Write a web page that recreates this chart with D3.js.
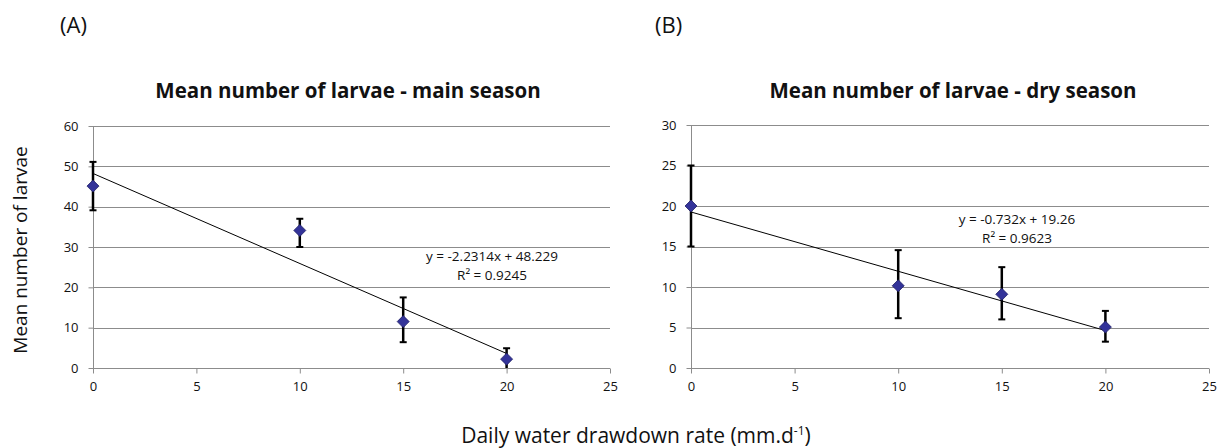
<!DOCTYPE html>
<html>
<head>
<meta charset="utf-8">
<script src="https://cdn.jsdelivr.net/npm/d3@7"></script>
<style>
  body { margin: 0; background: #fff; }
  svg { font-family: "Open Sans", sans-serif; }
</style>
</head>
<body>
<svg id="chart" width="1219" height="448"></svg>
<script>
// data
var xTicks = [0, 5, 10, 15, 20, 25];
var drawdown = [0, 10, 15, 20];

var mainMean = [45.1, 34.1, 11.5, 2.2];
var mainLow = [39.1, 30.0, 6.4, 0];
var mainHigh = [51.1, 37.0, 17.5, 4.9];
var mainTicks = [0, 10, 20, 30, 40, 50, 60];
var mainFit = [-2.2314, 48.229];

var dryMean = [20.0, 10.15, 9.1, 5.05];
var dryLow = [15.0, 6.15, 6.0, 3.25];
var dryHigh = [25.0, 14.55, 12.45, 7.05];
var dryTicks = [0, 5, 10, 15, 20, 25, 30];
var dryFit = [-0.732, 19.26];

var svg = d3.select('#chart');

var panels = [
  {
    tag: '(A)', tagX: 60,
    title: 'Mean number of larvae - main season', titleX: 348,
    mean: mainMean, low: mainLow, high: mainHigh, yTicks: mainTicks, fit: mainFit,
    eq: 'y = -2.2314x + 48.229', r2: '0.9245',
    left: 93, right: 610, top: 126, bottom: 368,
    eqX: 492, eqY: 261
  },
  {
    tag: '(B)', tagX: 655,
    title: 'Mean number of larvae - dry season', titleX: 953,
    mean: dryMean, low: dryLow, high: dryHigh, yTicks: dryTicks, fit: dryFit,
    eq: 'y = -0.732x + 19.26', r2: '0.9623',
    left: 691, right: 1209, top: 125, bottom: 368,
    eqX: 1017, eqY: 224
  }
];

panels.forEach(function(p) {
  var x = d3.scaleLinear().domain([0, 25]).range([p.left, p.right]);
  var y = d3.scaleLinear().domain([0, d3.max(p.yTicks)]).range([p.bottom, p.top]);
  var g = svg.append('g');

  g.append('text')
    .attr('x', p.tagX).attr('y', 33)
    .attr('font-size', 22).attr('fill', '#111')
    .text(p.tag);

  g.append('text')
    .attr('x', p.titleX).attr('y', 98)
    .attr('text-anchor', 'middle')
    .attr('font-size', 20.5).attr('font-weight', 'bold').attr('fill', '#111')
    .text(p.title);

  // gridlines
  g.selectAll('line.grid')
    .data(p.yTicks.slice(1))
    .enter().append('line')
    .attr('class', 'grid')
    .attr('x1', p.left).attr('x2', p.right)
    .attr('y1', function(d) { return Math.round(y(d)) + 0.5; })
    .attr('y2', function(d) { return Math.round(y(d)) + 0.5; })
    .attr('stroke', '#8c8c8c').attr('stroke-width', 1);

  // axes
  var yAxis = d3.axisLeft(y).tickValues(p.yTicks).tickSize(5).tickPadding(10);
  var ya = g.append('g')
    .attr('transform', 'translate(' + (p.left + 0.5) + ',0)')
    .call(yAxis);
  var xAxis = d3.axisBottom(x).tickValues(xTicks).tickSize(5).tickPadding(8);
  var xa = g.append('g')
    .attr('transform', 'translate(0,' + (p.bottom + 0.5) + ')')
    .call(xAxis);
  [ya, xa].forEach(function(a) {
    a.select('.domain').attr('stroke', '#8c8c8c');
    a.selectAll('.tick line').attr('stroke', '#8c8c8c');
    a.selectAll('.tick text')
      .attr('font-size', 13).attr('fill', '#111')
      .attr('font-family', '"Open Sans", sans-serif');
  });
  ya.select('.domain').attr('d', 'M0,' + p.bottom + 'V' + p.top);
  xa.select('.domain').attr('d', 'M' + p.left + ',0H' + p.right);

  // trendline
  g.append('line')
    .attr('x1', x(0)).attr('y1', y(p.fit[1]))
    .attr('x2', x(20)).attr('y2', y(p.fit[0] * 20 + p.fit[1]))
    .attr('stroke', '#000').attr('stroke-width', 1);

  // error bars
  var eb = g.selectAll('g.err')
    .data(drawdown)
    .enter().append('g')
    .attr('class', 'err');
  eb.append('line')
    .attr('x1', function(d) { return x(d); }).attr('x2', function(d) { return x(d); })
    .attr('y1', function(d, i) { return y(p.low[i]); })
    .attr('y2', function(d, i) { return y(p.high[i]); })
    .attr('stroke', '#000').attr('stroke-width', 2.5);
  eb.append('line')
    .attr('x1', function(d) { return x(d) - 3.5; }).attr('x2', function(d) { return x(d) + 3.5; })
    .attr('y1', function(d, i) { return y(p.high[i]); })
    .attr('y2', function(d, i) { return y(p.high[i]); })
    .attr('stroke', '#000').attr('stroke-width', 2);
  eb.filter(function(d, i) { return p.low[i] > 0; })
    .append('line')
    .attr('x1', function(d) { return x(d) - 3.5; }).attr('x2', function(d) { return x(d) + 3.5; })
    .attr('y1', function(d, i) { return y(p.low[i]); })
    .attr('y2', function(d, i) { return y(p.low[i]); })
    .attr('stroke', '#000').attr('stroke-width', 2);

  // diamond markers
  g.selectAll('path.pt')
    .data(drawdown)
    .enter().append('path')
    .attr('class', 'pt')
    .attr('d', function(d, i) {
      var cx = x(d), cy = y(p.mean[i]), r = 6;
      return 'M' + cx + ',' + (cy - r) + 'L' + (cx + r) + ',' + cy +
        'L' + cx + ',' + (cy + r) + 'L' + (cx - r) + ',' + cy + 'Z';
    })
    .attr('fill', '#333399').attr('stroke', '#1f1f66').attr('stroke-width', 0.8);

  // equation
  g.append('text')
    .attr('x', p.eqX).attr('y', p.eqY)
    .attr('text-anchor', 'middle').attr('font-size', 13.5).attr('fill', '#111')
    .text(p.eq);
  g.append('text')
    .attr('x', p.eqX).attr('y', p.eqY + 19)
    .attr('text-anchor', 'middle').attr('font-size', 13.5).attr('fill', '#111')
    .text('R² = ' + p.r2);
});

// shared axis titles
svg.append('text')
  .attr('transform', 'translate(27,250) rotate(-90)')
  .attr('text-anchor', 'middle')
  .attr('font-size', 19).attr('fill', '#111')
  .text('Mean number of larvae');

var xl = svg.append('text')
  .attr('x', 636).attr('y', 443)
  .attr('text-anchor', 'middle')
  .attr('font-size', 21).attr('fill', '#111');
xl.append('tspan').text('Daily water drawdown rate (mm.d');
xl.append('tspan').attr('font-size', 12).attr('dy', -8).text('-1');
xl.append('tspan').attr('dy', 8).text(')');
</script>
</body>
</html>
